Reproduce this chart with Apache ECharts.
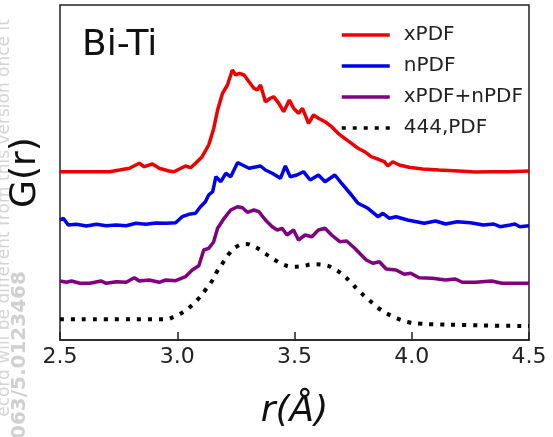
<!DOCTYPE html>
<html>
<head>
<meta charset="utf-8">
<script src="https://cdn.jsdelivr.net/npm/echarts@6/dist/echarts.min.js"></script>
<style>
  html, body { margin: 0; padding: 0; background: #fff; }
  #chart { width: 553px; height: 437px; }
</style>
</head>
<body>
<div id="chart"></div>
<script>
// x ticks (r, in Angstrom)
const xTicks = [2.5, 3.0, 3.5, 4.0, 4.5];

// xPDF (curves are offset vertically, arbitrary units)
const rX = [2.500, 2.711, 2.754, 2.796, 2.838, 2.859, 2.894, 2.923, 2.965, 2.986, 3.007, 3.035, 3.057, 3.078,
  3.106, 3.134, 3.155, 3.172, 3.193, 3.214, 3.235, 3.249, 3.265, 3.285, 3.306, 3.327, 3.341, 3.355, 3.376,
  3.397, 3.411, 3.433, 3.454, 3.478, 3.496, 3.517, 3.534, 3.560, 3.581, 3.602, 3.630, 3.658, 3.686, 3.714,
  3.743, 3.771, 3.799, 3.827, 3.848, 3.883, 3.898, 3.919, 3.947, 3.989, 4.046, 4.116, 4.200, 4.271, 4.341,
  4.412, 4.500];
const gX = [168.3, 168.3, 170, 171.7, 176.7, 173.3, 176, 171.7, 169, 168.3, 170.7, 174, 172.3, 176.7,
  183.3, 195, 211, 230, 246.7, 255, 270, 265, 266.7, 265, 258.3, 251.7, 250, 255, 238.3,
  241.7, 243.3, 236.7, 228.3, 240, 231.7, 226.7, 231.7, 216.7, 225, 221.7, 218.3, 213.3, 206.7, 201.7,
  196.7, 191.7, 188.3, 183.3, 181.7, 178.3, 174, 178.3, 175, 172.7, 171, 170, 169, 168, 168.3,
  168.3, 169];

// nPDF
const rN = [2.500, 2.514, 2.535, 2.570, 2.613, 2.655, 2.697, 2.740, 2.782, 2.824, 2.866, 2.909, 2.951, 2.993,
  3.021, 3.049, 3.078, 3.099, 3.120, 3.134, 3.151, 3.165, 3.186, 3.207, 3.228, 3.257, 3.278, 3.306, 3.355,
  3.376, 3.405, 3.440, 3.461, 3.482, 3.510, 3.538, 3.567, 3.602, 3.630, 3.672, 3.701, 3.743, 3.771, 3.813,
  3.856, 3.877, 3.905, 3.933, 3.982, 4.053, 4.102, 4.144, 4.194, 4.250, 4.306, 4.349, 4.377, 4.419, 4.440,
  4.461, 4.500];
const gN = [120, 121.7, 115, 115.7, 114, 115.7, 114.3, 115, 114.3, 116.7, 115.7, 117, 116.7, 117.3,
  123.3, 125.7, 126.7, 133.3, 138.3, 145, 148.3, 163.3, 158.3, 166.7, 163.3, 177.3, 175, 171.7, 174,
  170, 166.7, 161.7, 174, 163.3, 165, 168.3, 160, 165, 158.3, 165, 156.7, 145, 136.7, 131.7,
  123.3, 126.7, 121.7, 123.3, 120, 116.7, 119, 116, 118.3, 117.3, 115, 116, 113.3, 115, 116,
  113.3, 114.3];

// xPDF+nPDF
const rXN = [2.500, 2.528, 2.549, 2.585, 2.627, 2.676, 2.697, 2.740, 2.782, 2.817, 2.838, 2.880, 2.923, 2.951,
  2.993, 3.035, 3.064, 3.092, 3.113, 3.134, 3.155, 3.172, 3.200, 3.228, 3.257, 3.278, 3.299, 3.327, 3.348,
  3.376, 3.405, 3.426, 3.447, 3.468, 3.496, 3.517, 3.545, 3.574, 3.602, 3.630, 3.658, 3.693, 3.722, 3.757,
  3.785, 3.806, 3.834, 3.862, 3.891, 3.933, 3.968, 3.996, 4.031, 4.088, 4.144, 4.186, 4.215, 4.271, 4.341,
  4.384, 4.440, 4.500];
const gXN = [59, 57.7, 59, 56.7, 56.7, 59, 56.7, 58.3, 57.7, 62.3, 59, 60, 57.7, 60,
  59.3, 63.3, 70, 74.3, 90, 91.7, 98, 111.7, 121.7, 130, 133.3, 132.3, 127.7, 130, 128.3,
  120, 113.3, 110, 111.7, 105, 110, 100, 105, 103.3, 110, 111.7, 105, 98.3, 99, 91.7,
  85, 80, 76.7, 78.3, 71, 70, 65.7, 66.7, 62.3, 61.7, 60, 61, 57.7, 57.7, 59,
  56.7, 56.7, 56.7];

// 444,PDF (model)
const rM = [2.500, 2.950, 2.986, 3.028, 3.064, 3.092, 3.120, 3.151, 3.169, 3.193, 3.219, 3.252, 3.292, 3.334,
  3.374, 3.412, 3.450, 3.492, 3.534, 3.581, 3.627, 3.669, 3.707, 3.740, 3.771, 3.802, 3.834, 3.869, 3.912,
  3.954, 3.996, 4.038, 4.088, 4.229, 4.370, 4.500];
const gM = [20.7, 20.7, 23.3, 28.3, 35, 41.7, 50, 60, 68.3, 76.7, 85.7, 93.3, 96, 92.7,
  86.7, 80.7, 75.7, 73.3, 74, 75.7, 75, 71, 65, 57.7, 50, 43.3, 36.7, 30, 24.3,
  20, 17.3, 16.3, 15.7, 15, 14.3, 14];

const seriesNames = ["xPDF", "nPDF", "xPDF+nPDF", "444,PDF"];
const seriesColors = ["#ee0000", "#0000ee", "#800080", "#000000"];

function pairs(xs, ys) {
  return xs.map((x, i) => [x, ys[i]]);
}

const chart = echarts.init(document.getElementById("chart"), null, { renderer: "canvas" });

const curves = [pairs(rX, gX), pairs(rN, gN), pairs(rXN, gXN), pairs(rM, gM)];

chart.setOption({
  animation: false,
  backgroundColor: "#fff",
  textStyle: { fontFamily: "DejaVu Sans" },
  grid: {
    left: 56,
    right: 24,
    top: 5,
    bottom: 97,
    show: true,
    borderColor: "#222",
    borderWidth: 1.5,
  },
  legend: {
    left: 335,
    top: 20,
    orient: "vertical",
    itemWidth: 48,
    itemHeight: 12,
    itemGap: 11,
    data: seriesNames,
    itemStyle: { opacity: 0 },
    lineStyle: { width: 3.5 },
    textStyle: {
      fontSize: 20,
      lineHeight: 20,
      color: "#222",
      padding: [0, 0, 0, 9],
    },
  },
  xAxis: {
    type: "value",
    min: xTicks[0],
    max: xTicks[xTicks.length - 1],
    interval: 0.5,
    name: "r(Å)",
    nameLocation: "middle",
    nameGap: 54,
    nameTextStyle: { fontSize: 36, fontStyle: "italic", color: "#111" },
    axisLine: { lineStyle: { color: "#222", width: 1.5 } },
    axisTick: { inside: true, length: 8, lineStyle: { color: "#222", width: 1.5 } },
    axisLabel: {
      fontSize: 22,
      color: "#222",
      margin: 6,
      formatter: (v) => v.toFixed(1),
    },
    splitLine: { show: false },
  },
  yAxis: {
    type: "value",
    min: 0,
    max: 335,
    name: "G(r)",
    nameLocation: "middle",
    nameGap: 16,
    nameTextStyle: { fontSize: 36, color: "#111" },
    axisLine: { show: false },
    axisTick: { show: false },
    axisLabel: { show: false },
    splitLine: { show: false },
  },
  graphic: [
    {
      type: "text",
      left: 82,
      top: 28,
      style: { text: "Bi-Ti", fontSize: 36, fill: "#111", fontFamily: "DejaVu Sans" },
    },
    {
      type: "text",
      x: 5,
      y: 218,
      z: -1,
      rotation: Math.PI / 2,
      style: {
        text: "ecord will be different from this version once it",
        fontSize: 17,
        fill: "#d4d4d4",
        align: "center",
        verticalAlign: "middle",
        fontFamily: "DejaVu Sans",
      },
    },
    {
      type: "text",
      x: 20,
      y: 362,
      z: -1,
      rotation: Math.PI / 2,
      style: {
        text: "1063/5.0123468",
        fontSize: 20,
        fontWeight: "bold",
        fill: "#d0d0d0",
        align: "center",
        verticalAlign: "middle",
        fontFamily: "DejaVu Sans",
      },
    },
  ],
  series: curves.map((data, i) => ({
    name: seriesNames[i],
    type: "line",
    data,
    symbol: "none",
    smooth: i === 3,
    lineStyle: {
      color: seriesColors[i],
      width: i === 3 ? 4 : 3.5,
      type: i === 3 ? [4, 7] : "solid",
      cap: "butt",
    },
    itemStyle: { color: seriesColors[i] },
    z: 4 - i,
  })),
});
</script>
</body>
</html>
